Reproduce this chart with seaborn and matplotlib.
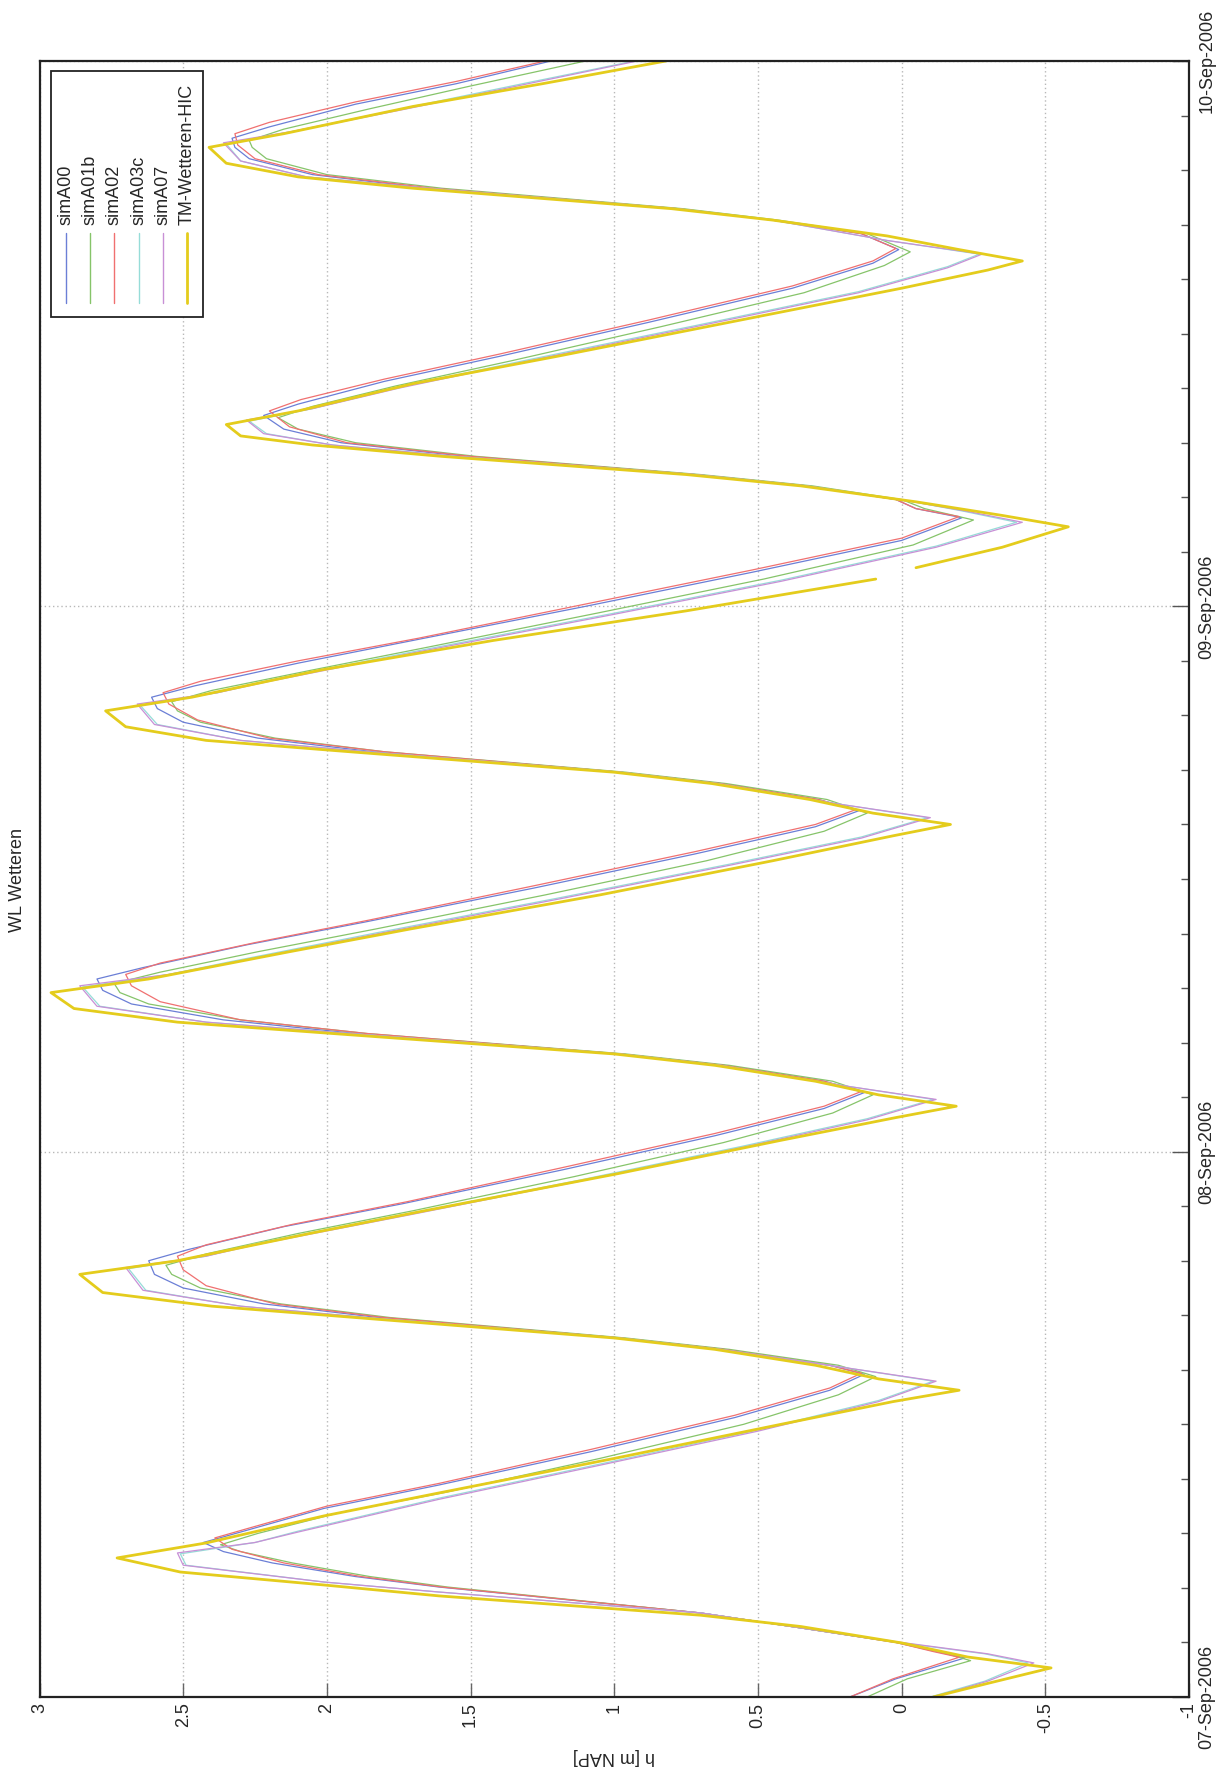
import datetime as dt
import numpy as np
import pandas as pd
import matplotlib
matplotlib.use("Agg")
import matplotlib.pyplot as plt
import matplotlib.dates as mdates
from matplotlib.ticker import FixedLocator, FixedFormatter
from matplotlib.lines import Line2D
from matplotlib.patches import Rectangle
import seaborn as sns

# ---------------- data (hours after 07-Sep-2006 00:00, h [m NAP]) ----------------
names = ["simA00", "simA01b", "simA02", "simA03c", "simA07", "TM-Wetteren-HIC"]
colors = ["#6b7fd6", "#86c46a", "#f07070", "#96dcd8", "#c890d6", "#e4cc1c"]

simA00_t = [0.0, 0.8, 1.72, 2.0, 2.4, 3.0, 3.7, 4.84, 5.3, 5.9, 6.4, 6.8,
            7.26, 8.3, 9.33, 10.8, 12.3, 13.5, 14.2,
            14.6, 15.3, 15.8, 16.7, 17.3, 18.0, 18.6, 19.2,
            19.7, 20.7, 21.7, 23.2, 24.7, 25.9, 26.6,
            27.1, 27.8, 28.3, 29.2, 29.8, 30.5, 31.1, 31.6,
            32.1, 33.1, 34.1, 35.6, 37.1, 38.3, 39.0,
            39.5, 40.2, 40.7, 41.6, 42.2, 42.9, 43.5, 44.0,
            44.5, 45.5, 46.5, 48.0, 49.5, 50.9, 51.9,
            52.3, 52.7, 53.3, 53.8, 54.6, 55.2, 55.8, 56.4,
            56.9, 57.9, 59.0, 60.5, 62.0, 63.1, 63.7,
            64.4, 65.0, 65.5, 66.4, 67.0, 67.7, 68.2, 68.6,
            69.1, 70.1, 71.0, 72.0]
simA00_h = [0.18, 0.02, -0.22, -0.12, 0.02, 0.33, 0.70, 1.61, 1.90, 2.19, 2.36, 2.43,
            2.30, 2.01, 1.61, 1.08, 0.58, 0.25, 0.13,
            0.25, 0.62, 0.98, 1.82, 2.22, 2.50, 2.60, 2.62,
            2.48, 2.15, 1.74, 1.18, 0.65, 0.27, 0.13,
            0.27, 0.62, 0.98, 1.90, 2.36, 2.68, 2.78, 2.80,
            2.64, 2.28, 1.87, 1.28, 0.72, 0.30, 0.15,
            0.29, 0.63, 0.98, 1.84, 2.24, 2.50, 2.59, 2.61,
            2.46, 2.10, 1.70, 1.10, 0.52, 0.00, -0.21,
            -0.05, 0.02, 0.33, 0.72, 1.52, 1.95, 2.15, 2.22,
            2.10, 1.80, 1.40, 0.88, 0.38, 0.10, 0.01,
            0.14, 0.45, 0.78, 1.65, 2.05, 2.27, 2.32, 2.33,
            2.20, 1.90, 1.55, 1.22]

simA02_t = [0.0, 0.8, 1.75, 2.0, 2.4, 3.0, 3.7, 4.84, 5.3, 5.9, 6.5, 7.0,
            7.4, 8.4, 9.4, 10.9, 12.4, 13.6, 14.25,
            14.6, 15.3, 15.8, 16.7, 17.3, 18.1, 18.8, 19.4,
            19.9, 20.8, 21.8, 23.3, 24.8, 26.0, 26.65,
            27.1, 27.8, 28.3, 29.2, 29.8, 30.6, 31.3, 31.8,
            32.3, 33.2, 34.2, 35.7, 37.2, 38.4, 39.05,
            39.5, 40.2, 40.7, 41.6, 42.2, 43.0, 43.7, 44.2,
            44.7, 45.6, 46.6, 48.1, 49.6, 51.0, 51.95,
            52.3, 52.7, 53.3, 53.8, 54.6, 55.2, 55.9, 56.6,
            57.1, 58.0, 59.1, 60.6, 62.1, 63.2, 63.75,
            64.4, 65.0, 65.5, 66.4, 67.0, 67.7, 68.3, 68.8,
            69.3, 70.2, 71.1, 72.0]
simA02_h = [0.18, 0.03, -0.20, -0.11, 0.02, 0.33, 0.70, 1.60, 1.88, 2.15, 2.33, 2.39,
            2.28, 2.00, 1.61, 1.08, 0.58, 0.25, 0.14,
            0.25, 0.62, 0.98, 1.80, 2.18, 2.42, 2.50, 2.52,
            2.42, 2.12, 1.72, 1.18, 0.65, 0.27, 0.14,
            0.27, 0.62, 0.98, 1.86, 2.30, 2.58, 2.68, 2.70,
            2.58, 2.25, 1.85, 1.28, 0.72, 0.30, 0.16,
            0.29, 0.63, 0.98, 1.80, 2.20, 2.45, 2.55, 2.57,
            2.44, 2.10, 1.68, 1.10, 0.52, 0.00, -0.20,
            -0.05, 0.02, 0.33, 0.72, 1.50, 1.93, 2.13, 2.20,
            2.09, 1.80, 1.40, 0.88, 0.38, 0.10, 0.02,
            0.14, 0.45, 0.78, 1.63, 2.03, 2.25, 2.31, 2.32,
            2.20, 1.90, 1.55, 1.24]

simA01b_t = [0.0, 0.8, 1.6, 2.0, 2.4, 3.0, 3.7, 4.84, 5.3, 5.9, 6.4, 6.7,
             7.2, 8.1, 9.0, 10.5, 12.0, 13.3, 14.1,
             14.6, 15.3, 15.8, 16.7, 17.3, 18.0, 18.6, 19.0,
             19.5, 20.4, 21.4, 22.9, 24.4, 25.7, 26.5,
             27.1, 27.8, 28.3, 29.2, 29.8, 30.5, 31.0, 31.4,
             31.9, 32.8, 33.8, 35.3, 36.8, 38.1, 38.9,
             39.5, 40.2, 40.7, 41.6, 42.2, 42.9, 43.4, 43.8,
             44.3, 45.2, 46.2, 47.7, 49.2, 50.7, 51.8,
             52.3, 52.7, 53.3, 53.8, 54.6, 55.2, 55.8, 56.3,
             56.8, 57.7, 58.8, 60.3, 61.8, 63.0, 63.6,
             64.4, 65.0, 65.5, 66.4, 67.0, 67.7, 68.2, 68.5,
             69.0, 69.9, 70.9, 72.0]
simA01b_h = [0.12, -0.02, -0.24, -0.13, 0.01, 0.33, 0.70, 1.58, 1.85, 2.12, 2.30, 2.37,
             2.24, 1.96, 1.59, 1.05, 0.55, 0.22, 0.09,
             0.22, 0.60, 0.96, 1.78, 2.16, 2.44, 2.54, 2.56,
             2.42, 2.10, 1.70, 1.14, 0.62, 0.24, 0.10,
             0.24, 0.60, 0.96, 1.86, 2.30, 2.62, 2.72, 2.74,
             2.58, 2.24, 1.83, 1.24, 0.68, 0.27, 0.12,
             0.26, 0.61, 0.96, 1.80, 2.18, 2.44, 2.52, 2.54,
             2.40, 2.05, 1.65, 1.06, 0.48, -0.04, -0.25,
             -0.08, 0.00, 0.31, 0.70, 1.48, 1.90, 2.10, 2.17,
             2.05, 1.76, 1.36, 0.84, 0.34, 0.06, -0.03,
             0.12, 0.43, 0.76, 1.60, 2.00, 2.21, 2.26, 2.27,
             2.15, 1.85, 1.50, 1.10]

simA07_t = [0.0, 0.7, 1.5, 1.9, 2.4, 3.0, 3.7, 4.62, 5.06, 5.8, 6.34,
            6.8, 7.26, 8.7, 10.2, 11.7, 13.0, 13.9,
            14.5, 15.3, 15.8, 16.7, 17.2, 17.9, 18.9,
            19.4, 19.9, 21.2, 22.7, 24.2, 25.4, 26.3,
            26.9, 27.8, 28.3, 29.2, 29.7, 30.4, 31.3,
            31.8, 32.3, 33.6, 35.1, 36.6, 37.8, 38.7,
            39.3, 40.2, 40.7, 41.6, 42.1, 42.8, 43.7,
            44.2, 44.7, 46.1, 47.6, 49.1, 50.6, 51.7,
            52.2, 52.6, 53.3, 53.8, 54.6, 55.1, 55.6, 56.2,
            56.7, 57.6, 58.8, 60.3, 61.8, 62.9, 63.5,
            64.1, 65.0, 65.5, 66.4, 66.9, 67.6, 68.4,
            68.9, 69.9, 71.0, 72.0]
simA07_h = [-0.11, -0.30, -0.46, -0.30, 0.00, 0.33, 0.70, 1.61, 2.01, 2.50, 2.52,
            2.25, 2.10, 1.61, 1.05, 0.50, 0.08, -0.12,
            0.20, 0.63, 0.98, 1.86, 2.30, 2.64, 2.70,
            2.42, 2.25, 1.72, 1.12, 0.55, 0.12, -0.12,
            0.20, 0.63, 0.98, 1.92, 2.42, 2.80, 2.86,
            2.55, 2.34, 1.82, 1.20, 0.60, 0.14, -0.10,
            0.22, 0.64, 0.98, 1.86, 2.30, 2.60, 2.66,
            2.38, 2.20, 1.64, 1.02, 0.42, -0.12, -0.42,
            -0.22, -0.04, 0.33, 0.72, 1.55, 1.98, 2.22, 2.28,
            2.05, 1.75, 1.30, 0.72, 0.15, -0.16, -0.28,
            0.05, 0.45, 0.78, 1.65, 2.07, 2.30, 2.36,
            2.12, 1.72, 1.30, 0.92]

simA03c_t = [0.0, 0.7, 1.5, 1.9, 2.4, 3.0, 3.7, 4.62, 5.06, 5.8, 6.30,
             6.8, 7.3, 8.75, 10.25, 11.75, 13.05, 13.9,
             14.5, 15.3, 15.8, 16.7, 17.2, 17.9, 18.85,
             19.4, 19.95, 21.25, 22.75, 24.25, 25.45, 26.3,
             26.9, 27.8, 28.3, 29.2, 29.7, 30.4, 31.25,
             31.8, 32.35, 33.65, 35.15, 36.65, 37.85, 38.7,
             39.3, 40.2, 40.7, 41.6, 42.1, 42.8, 43.65,
             44.2, 44.75, 46.15, 47.65, 49.15, 50.65, 51.7,
             52.2, 52.6, 53.3, 53.8, 54.6, 55.1, 55.6, 56.15,
             56.7, 57.65, 58.85, 60.35, 61.85, 62.95, 63.5,
             64.1, 65.0, 65.5, 66.4, 66.9, 67.6, 68.35,
             68.9, 69.95, 71.05, 72.0]
simA03c_h = [-0.10, -0.29, -0.44, -0.29, 0.01, 0.33, 0.70, 1.61, 2.01, 2.49, 2.51,
             2.25, 2.10, 1.61, 1.05, 0.50, 0.08, -0.11,
             0.20, 0.63, 0.98, 1.86, 2.30, 2.63, 2.69,
             2.42, 2.25, 1.72, 1.12, 0.55, 0.12, -0.11,
             0.20, 0.63, 0.98, 1.92, 2.42, 2.79, 2.85,
             2.55, 2.34, 1.82, 1.20, 0.60, 0.14, -0.09,
             0.22, 0.64, 0.98, 1.86, 2.30, 2.59, 2.65,
             2.38, 2.20, 1.64, 1.02, 0.42, -0.12, -0.40,
             -0.21, -0.04, 0.33, 0.72, 1.55, 1.98, 2.21, 2.27,
             2.05, 1.75, 1.30, 0.72, 0.15, -0.16, -0.27,
             0.05, 0.45, 0.78, 1.65, 2.07, 2.30, 2.35,
             2.12, 1.72, 1.30, 0.93]

obs_t = [0.0, 0.6, 1.28, 1.76, 2.38, 3.1, 3.6, 4.45, 4.93, 5.5, 6.12,
         6.78, 7.97, 8.98, 10.5, 12.0, 13.0, 13.5,
         14.0, 14.6, 15.3, 15.8, 16.7, 17.2, 17.8, 18.6,
         19.2, 20.4, 21.4, 23.0, 24.5, 25.5, 26.0,
         26.5, 27.1, 27.8, 28.3, 29.2, 29.7, 30.3, 31.0,
         31.6, 32.8, 33.8, 35.3, 36.8, 37.9, 38.4,
         38.9, 39.5, 40.2, 40.7, 41.6, 42.1, 42.7, 43.4,
         44.0, 45.2, 46.5, 47.8, 49.2,
         49.7, 50.6, 51.5,
         52.0, 52.6, 53.3, 53.8, 54.6, 55.1, 55.5, 56.0,
         56.6, 57.8, 59.0, 60.5, 62.0, 62.8, 63.2,
         63.7, 64.3, 65.0, 65.5, 66.4, 66.9, 67.5, 68.2,
         68.8, 70.0, 71.0, 72.0]
obs_h = [-0.11, -0.30, -0.52, -0.23, 0.00, 0.35, 0.70, 1.61, 2.01, 2.51, 2.73,
         2.42, 2.01, 1.61, 1.00, 0.42, 0.03, -0.20,
         0.08, 0.30, 0.65, 1.00, 1.90, 2.40, 2.78, 2.86,
         2.52, 2.06, 1.66, 1.00, 0.42, 0.02, -0.19,
         0.08, 0.30, 0.65, 1.00, 1.98, 2.52, 2.88, 2.96,
         2.62, 2.13, 1.71, 1.05, 0.45, 0.03, -0.17,
         0.10, 0.32, 0.66, 1.00, 1.92, 2.42, 2.70, 2.77,
         2.47, 2.02, 1.42, 0.75, 0.09,
         -0.05, -0.35, -0.58,
         -0.35, -0.05, 0.35, 0.75, 1.60, 2.05, 2.30, 2.35,
         2.10, 1.70, 1.20, 0.60, 0.00, -0.30, -0.42,
         -0.20, 0.05, 0.45, 0.80, 1.70, 2.10, 2.35, 2.41,
         2.15, 1.70, 1.25, 0.82]
# the observed record has a data gap between 49.2 h and 49.7 h
obs_seg = [0] * 61 + [1] * (len(obs_t) - 61)

series_t = [simA00_t, simA01b_t, simA02_t, simA03c_t, simA07_t, obs_t]
series_h = [simA00_h, simA01b_h, simA02_h, simA03c_h, simA07_h, obs_h]

h_ticks = [3, 2.5, 2, 1.5, 1, 0.5, 0, -0.5, -1]
h_labels = ["3", "2.5", "2", "1.5", "1", "0.5", "0", "-0.5", "-1"]
date_labels = ["07-Sep-2006", "08-Sep-2006", "09-Sep-2006", "10-Sep-2006"]

# ---------------- figure ----------------
sns.set_style("white")
plt.rcParams["font.family"] = ["Liberation Sans", "DejaVu Sans"]

W, H = 1229, 1772
fig = plt.figure(figsize=(W / 100, H / 100), dpi=100)
fig.patch.set_facecolor("white")


def fx(x):
    return x / W


def fy(y):
    return 1 - y / H


L, R, T, B = 39.5, 1189, 61, 1697
ax = fig.add_axes([fx(L), fy(B), fx(R) - fx(L), fy(T) - fy(B)])

start = mdates.date2num(dt.datetime(2006, 9, 7))

frames = []
for name, ts, hs in zip(names, series_t, series_h):
    seg = obs_seg if name == "TM-Wetteren-HIC" else [0] * len(ts)
    frames.append(pd.DataFrame({"name": name,
                                "t": start + np.asarray(ts) / 24.0,
                                "h": hs, "seg": seg}))
df = pd.concat(frames, ignore_index=True)

for name, col in zip(names, colors):
    sub = df[df["name"] == name]
    lw = 2.0 if name == "TM-Wetteren-HIC" else 0.9
    sns.lineplot(data=sub, x="h", y="t", units="seg", estimator=None,
                 sort=False, color=col, linewidth=lw, ax=ax, legend=False)

ax.set_xlabel("")
ax.set_ylabel("")
ax.set_xlim(3, -1)
ax.set_ylim(start, start + 3)

ax.set_xticks(h_ticks)
ax.set_xticklabels(h_labels)
ax.yaxis.set_major_locator(FixedLocator([start + i for i in range(4)]))
ax.yaxis.set_major_formatter(FixedFormatter(date_labels))
ax.yaxis.set_minor_locator(FixedLocator(start + np.arange(0, 3.001, 0.1)))

ax.grid(True, which="major", linestyle=(0, (1, 2)), color="#b8b8b8", linewidth=1.0)
ax.set_axisbelow(True)

ax.tick_params(axis="x", which="major", direction="in", length=10, width=1,
               color="#666666", bottom=True, top=False, labelsize=13,
               labelrotation=90, pad=4)
ax.tick_params(axis="y", which="both", direction="in", left=False, right=True,
               labelleft=False, labelright=True, color="#555555", width=1)
ax.tick_params(axis="y", which="major", length=12, labelsize=13, labelrotation=90, pad=7)
ax.tick_params(axis="y", which="minor", length=6)
for lbl in ax.get_yticklabels():
    lbl.set_va("center")

for sp in ax.spines.values():
    sp.set_color("#222222")
    sp.set_linewidth(1.6)
    sp.set_visible(True)

# title and value-axis label (figure is shown rotated)
fig.text(fx(18), fy(880), "WL Wetteren", rotation=90, ha="center", va="center", fontsize=13)
fig.text(fx(614), fy(1757), "h [m NAP]", rotation=180, ha="center", va="center", fontsize=13)

# legend (rotated, drawn by hand)
fig.add_artist(Rectangle((fx(51), fy(317)), fx(203) - fx(51), fy(71) - fy(317),
                         transform=fig.transFigure, facecolor="white",
                         edgecolor="#222222", linewidth=1.3, zorder=5))
leg_x = [66, 90, 114, 139, 163, 187]
for name, col, lx in zip(names, colors, leg_x):
    lw = 2.0 if name == "TM-Wetteren-HIC" else 1.0
    fig.add_artist(Line2D([fx(lx), fx(lx)], [fy(303), fy(233)], transform=fig.transFigure,
                          color=col, linewidth=lw, zorder=6))
    fig.text(fx(lx), fy(225), name, rotation=90, ha="center", va="bottom",
             fontsize=13, zorder=7)

fig.savefig("out.png", dpi=100, facecolor="white")
